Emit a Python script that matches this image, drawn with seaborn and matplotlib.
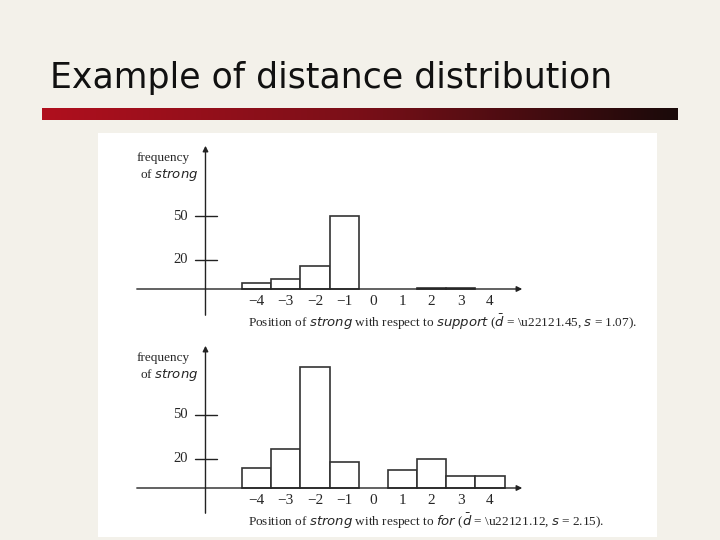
import matplotlib
matplotlib.use("Agg")
import matplotlib.pyplot as plt
import seaborn as sns
import numpy as np
from matplotlib.colors import LinearSegmentedColormap

sns.set_style("white")
plt.rcParams['font.family'] = ['Liberation Serif', 'DejaVu Serif']

positions_top = [-4, -3, -2, -1, 2, 3]
freq_top = [4, 7, 16, 50, 1, 1]
positions_bot = [-4, -3, -2, -1, 1, 2, 3, 4]
freq_bot = [14, 27, 83, 18, 12, 20, 8, 8]
xtick_labels = ["\u22124", "\u22123", "\u22122", "\u22121", "0", "1", "2", "3", "4"]
ytick_vals = [20, 50]
title = "Example of distance distribution"
cap_top = r"Position of $\it{strong}$ with respect to $\it{support}$ ($\bar{d}$ = \u22121.45, $\it{s}$ = 1.07)."
cap_bot = r"Position of $\it{strong}$ with respect to $\it{for}$ ($\bar{d}$ = \u22121.12, $\it{s}$ = 2.15)."

W, H = 720, 540
fig = plt.figure(figsize=(7.2, 5.4), dpi=100)
fig.patch.set_facecolor("#f3f1ea")

fig.text(50/W, 1-78/H, title, fontsize=25, family=["DejaVu Sans"], color="#111111", va="center")
grad = np.linspace(0, 1, 256)[None, :]
cm = LinearSegmentedColormap.from_list("g", ["#b0101e", "#7a0f18", "#1a0a0a"])
gax = fig.add_axes([42/W, 1-120/H, (678-42)/W, 12/H])
gax.imshow(grad, aspect="auto", cmap=cm)
gax.axis("off")

# white panel as a background axes
bg = fig.add_axes([98/W, 1-537/H, (657-98)/W, (537-133)/H])
bg.set_facecolor("white")
bg.set_xticks([]); bg.set_yticks([])
for s in bg.spines.values():
    s.set_visible(False)

def panel(ytop, ybase, ybot, pos, freq, cap):
    ppu = 1.46
    ax = fig.add_axes([134/W, 1-ybot/H, (525-134)/W, (ybot-ytop)/H])
    ax.set_facecolor("none")
    sns.barplot(x=pos, y=freq, native_scale=True, width=1.0, color="white",
                edgecolor="#333333", linewidth=1.2, ax=ax, saturation=1)
    ax.set_xlim(-8.2, 5.2)
    ax.set_ylim(-(ybot-ybase)/ppu, (ybase-ytop)/ppu)
    for s in ax.spines.values():
        s.set_visible(False)
    ax.set_xticks([]); ax.set_yticks([])
    ax.set_xlabel(""); ax.set_ylabel("")
    ax.annotate("", xy=(5.2, 0), xytext=(-8.2, 0),
                arrowprops=dict(arrowstyle="-|>", color="#222222", lw=1, mutation_scale=8))
    ax.annotate("", xy=(-5.75, (ybase-ytop)/ppu), xytext=(-5.75, -(ybot-ybase)/ppu),
                arrowprops=dict(arrowstyle="-|>", color="#222222", lw=1, mutation_scale=8))
    for v in ytick_vals:
        ax.plot([-6.1, -5.35], [v, v], color="#222222", lw=1)
        ax.text(-6.35, v, str(v), ha="right", va="center", fontsize=10.5)
    for i, lab in enumerate(xtick_labels):
        ax.text(i-4, -4, lab, ha="center", va="top", fontsize=11)
    ax.text(-8.1, (ybase-ytop)/ppu - 10, "frequency", ha="left", va="center", fontsize=9.5)
    ax.text(-8.0, (ybase-ytop)/ppu - 22, r"of $\it{strong}$", ha="left", va="center", fontsize=9.5)
    ax.text(-4.3, -23, cap, ha="left", va="center", fontsize=9.5)

panel(143, 289, 318, positions_top, freq_top, cap_top)
panel(343, 488, 516, positions_bot, freq_bot, cap_bot)

fig.savefig("out.png", dpi=100, facecolor=fig.get_facecolor())
